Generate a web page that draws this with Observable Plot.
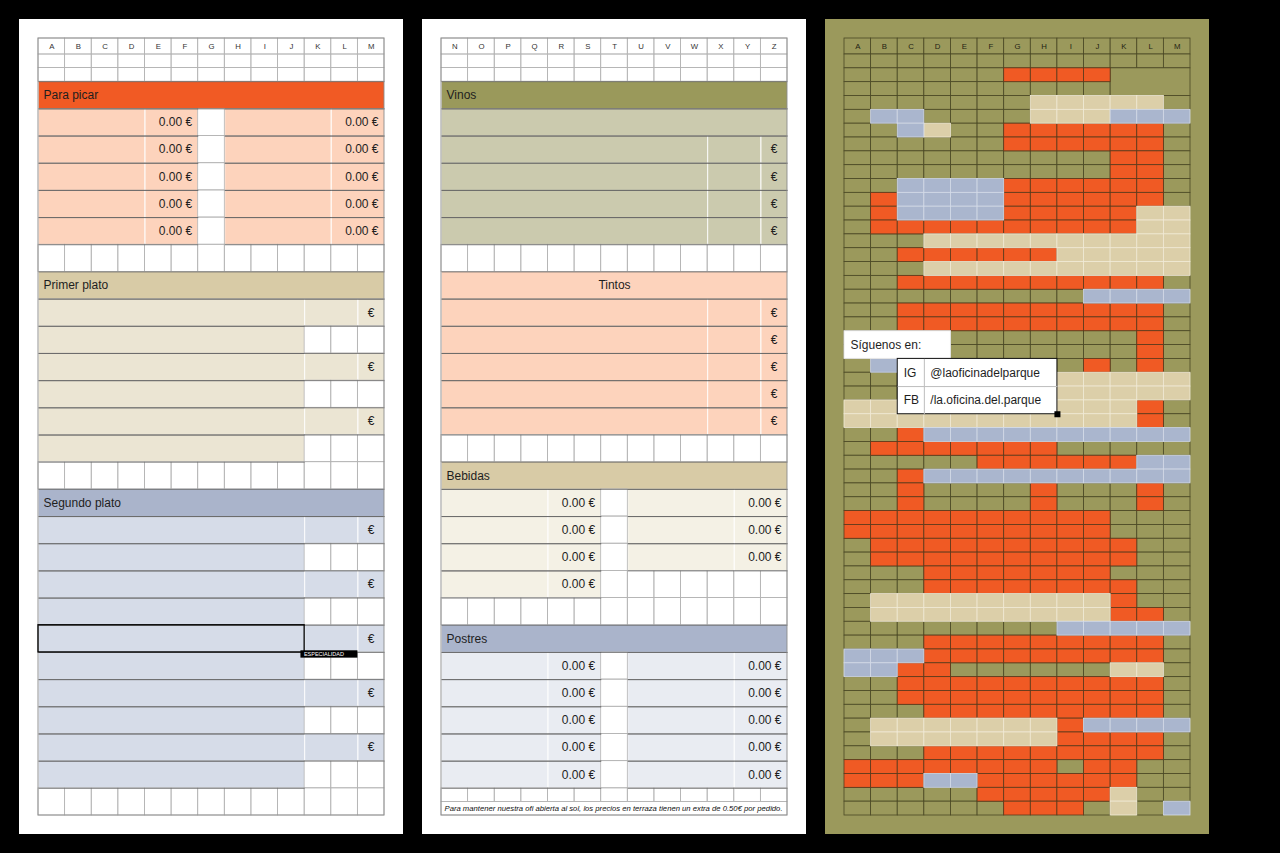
<!DOCTYPE html>
<html><head><meta charset="utf-8">
<script src="https://cdn.jsdelivr.net/npm/d3@7"></script>
<script src="https://cdn.jsdelivr.net/npm/@observablehq/plot@0.6"></script>
<style>
html,body{margin:0;padding:0;background:#000;overflow:hidden;}
svg{display:block;}
</style></head><body>
<script>
// ---------- data ----------
const lettersLeft = ["A","B","C","D","E","F","G","H","I","J","K","L","M"];
const lettersMid  = ["N","O","P","Q","R","S","T","U","V","W","X","Y","Z"];
const panelIds = [0, 1, 2];
const panelBackgrounds = ["#ffffff", "#ffffff", "#9b995c"];

const sectionNames  = ["Para picar", "Primer plato", "Segundo plato", "Vinos", "Tintos", "Bebidas", "Postres"];
const sectionPanel  = [0, 0, 0, 1, 1, 1, 1];
const sectionRow    = [2, 16, 32, 2, 16, 30, 42];
const sectionColor  = ["#f15a24", "#d8cba6", "#aab4cb", "#9a995b", "#fdd3bc", "#d8cba6", "#aab4cb"];
const sectionCenter = [false, false, false, false, true, false, false];

const paraPicarPrices = ["0.00 €", "0.00 €", "0.00 €", "0.00 €", "0.00 €"];
const primerPlatoRows = 6;
const segundoPlatoRows = 10;
const vinosRows = 4;
const tintosRows = 5;
const bebidasPrices = [["0.00 €", "0.00 €"], ["0.00 €", "0.00 €"], ["0.00 €", "0.00 €"], ["0.00 €", null]];
const postresPrices = [["0.00 €", "0.00 €"], ["0.00 €", "0.00 €"], ["0.00 €", "0.00 €"], ["0.00 €", "0.00 €"], ["0.00 €", "0.00 €"]];
const euroSign = "€";
const especialidadLabel = "ESPECIALIDAD";
const footnote = "Para mantener nuestra ofi abierta al sol, los precios en terraza tienen un extra de 0.50€ por pedido.";

// mosaic (right panel): o = olive, R = orange, T = tan, B = blue
const mosaicRows = [
  "ooooooooooooo","ooooooRRRRooo","ooooooooooooo","oooooooTTTTTo","oBBooooTTTBBB",
  "ooBTooRRRRRRo","ooooooRRRRRRo","ooooooooooRRo","ooooooooooRRo","ooBBBBRRRRRRo",
  "oRBBBBRRRRRRo","oRBBBBRRRRRTT","oRRRRRRRRRRTT","oooTTTTTTTTTT","ooRRRRRRTTTTT",
  "oooTTTTTTTTTT","ooRRRRRRRRRRo","oooooooooBBBB","ooRRRRRRRRRRo","ooRRRRRRRRRRo",
  "oooooooooooRo","oooooooooooRo","oBoooooooRoRo","ooooooooTTTTT","ooooooooTTTTT",
  "TTTTTTTTTTTRo","TTTTTTTTTTTRo","ooRBBBBBBBBBB","oRRRRRRRooooo","oooooRRRRRRBB",
  "ooRBBBBBBBBBB","ooRooooRoooRo","ooRooooRoooRo","RRRRRRRRRRooo","RRRRRRRRRRooo",
  "oRRRRRRRRRRoo","oRRRRRRRRRRoo","oooRRRRRRRooo","oooRRRRRRRRoo","oTTTTTTTTTRoo",
  "oTTTTTTTTTRRo","ooooooooBBBBB","oooRRRRRRRRRo","BBBRRRRRRRRRo","BBRRooooooTTo",
  "ooRRRRRRRRRRo","ooRRRRRRRRRRo","oooRRRRRRRRRo","oTTTTTTTRBBBB","oTTTTTTTRRRRo",
  "oooRRRRRRRRRo","RRRRRRRRoRRoo","RRRBBRRRRRRoo","oooooRRRRRToo","ooooooRRRoToB"
];
const mosaicPalette = {o: "#9b995c", R: "#f05a24", T: "#dccfa9", B: "#aab6ce"};
const mosaicStroke  = {o: "#4a4825", R: "#5a3a1c", T: "#f1ead6", B: "#d4dbe9"};
const mosaicMerged = [{c0: 10, c1: 13, r0: 1, r1: 3, key: "o"}];
const followTitle = "Síguenos en:";
const socialKeys = ["IG", "FB"];
const socialHandles = ["@laoficinadelparque", "/la.oficina.del.parque"];

// ---------- layout units ----------
const NCOL = 13, HALF_ROWS = 56;
const CW = 346 / NCOL;          // px per column
const HR = 761 / HALF_ROWS;     // px per half row
const HDR = 16 / HR;            // header row height in half rows
const xDomain = [-19 / CW, NCOL + 19 / CW];
const yDomain = [-(16 + 19) / HR, HALF_ROWS + 19 / HR];
const MK = HALF_ROWS / mosaicRows.length; // mosaic row height in half-row units

const WHITE = "#ffffff", LIGHT_LINE = "#b4b4b4";
const peach = "#fdd3bc", tanLight = "#ebe5d3", blueLight = "#d6dce8",
      oliveLight = "#cbcaae", cream = "#f4f1e5", blueLighter = "#e9ecf2";

const cells = [];
const texts = [];
function cell(panel, c0, c1, r0, r1, fill) { cells.push({panel, c0, c1, r0, r1, fill}); }
function whiteRow(panel, r0, r1, from = 0) { for (let c = from; c < NCOL; c++) cell(panel, c, c + 1, r0, r1, WHITE); }
function txt(panel, x, y, text, o = {}) {
  texts.push({panel, x, y, text, anchor: o.anchor || "start", dx: o.dx || 0, size: o.size || 12,
              fill: o.fill || "#1e1e1e", style: o.style || "normal"});
}

// header letter rows
[lettersLeft, lettersMid].forEach((letters, p) => {
  whiteRow(p, -HDR, 0);
  letters.forEach((l, i) => txt(p, i + 0.5, -HDR / 2, l, {anchor: "middle", size: 7.8, fill: "#333333"}));
  whiteRow(p, 0, 1); whiteRow(p, 1, 2);
});

// section headers
sectionNames.forEach((name, i) => {
  cell(sectionPanel[i], 0, NCOL, sectionRow[i], sectionRow[i] + 2, sectionColor[i]);
  if (sectionCenter[i]) txt(sectionPanel[i], NCOL / 2, sectionRow[i] + 1, name, {anchor: "middle"});
  else txt(sectionPanel[i], 0, sectionRow[i] + 1, name, {dx: 5});
});

// ----- panel 0 -----
paraPicarPrices.forEach((p, i) => {
  const r = 4 + 2 * i;
  cell(0, 0, 4, r, r + 2, peach); cell(0, 4, 6, r, r + 2, peach);
  cell(0, 6, 7, r, r + 2, WHITE); cell(0, 7, 11, r, r + 2, peach); cell(0, 11, 13, r, r + 2, peach);
  txt(0, 6, r + 1, p, {anchor: "end", dx: -6}); txt(0, 13, r + 1, p, {anchor: "end", dx: -6});
});
whiteRow(0, 14, 16);
function dishRows(start, n, light) {
  for (let i = 0; i < n; i++) {
    const r = start + 2 * i;
    cell(0, 0, 10, r, r + 2, light);
    if (i % 2 === 0) {
      cell(0, 10, 12, r, r + 2, light); cell(0, 12, 13, r, r + 2, light);
      txt(0, 12.5, r + 1, euroSign, {anchor: "middle"});
    } else { cell(0, 10, 11, r, r + 2, WHITE); cell(0, 11, 12, r, r + 2, WHITE); cell(0, 12, 13, r, r + 2, WHITE); }
  }
}
dishRows(18, primerPlatoRows, tanLight);
whiteRow(0, 30, 32);
dishRows(34, segundoPlatoRows, blueLight);
whiteRow(0, 54, 56);

// ----- panel 1 -----
cell(1, 0, 13, 4, 6, oliveLight);
function wineRows(start, n, fill) {
  for (let i = 0; i < n; i++) {
    const r = start + 2 * i;
    cell(1, 0, 10, r, r + 2, fill); cell(1, 10, 12, r, r + 2, fill); cell(1, 12, 13, r, r + 2, fill);
    txt(1, 12.5, r + 1, euroSign, {anchor: "middle"});
  }
}
wineRows(6, vinosRows, oliveLight);
whiteRow(1, 14, 16);
wineRows(18, tintosRows, peach);
whiteRow(1, 28, 30);
function priceRows(start, prices, fill) {
  prices.forEach((pr, i) => {
    const r = start + 2 * i;
    cell(1, 0, 4, r, r + 2, fill); cell(1, 4, 6, r, r + 2, fill); cell(1, 6, 7, r, r + 2, WHITE);
    txt(1, 6, r + 1, pr[0], {anchor: "end", dx: -6});
    if (pr[1]) {
      cell(1, 7, 11, r, r + 2, fill); cell(1, 11, 13, r, r + 2, fill);
      txt(1, 13, r + 1, pr[1], {anchor: "end", dx: -6});
    } else for (let c = 7; c < 13; c++) cell(1, c, c + 1, r, r + 2, WHITE);
  });
}
priceRows(32, bebidasPrices, cream);
whiteRow(1, 40, 42);
priceRows(44, postresPrices, blueLighter);
whiteRow(1, 54, 55);
cell(1, 0, 13, 55, 56, WHITE);
txt(1, 0, 55.5, footnote, {dx: 3, size: 7.7, style: "italic", fill: "#111111"});

const whiteCells = cells.filter(d => d.fill === WHITE);
const colorCells = cells.filter(d => d.fill !== WHITE);
// edges of coloured cells: vertical ones are pale, horizontal ones dark
const colorVEdges = colorCells.flatMap(d => [{panel: d.panel, x: d.c0, y1: d.r0, y2: d.r1}, {panel: d.panel, x: d.c1, y1: d.r0, y2: d.r1}]);
const colorHEdges = colorCells.flatMap(d => [{panel: d.panel, y: d.r0, x1: d.c0, x2: d.c1}, {panel: d.panel, y: d.r1, x1: d.c0, x2: d.c1}]);
const gridFrames = [0, 1].map(p => ({panel: p, c0: 0, c1: NCOL, r0: -HDR, r1: HALF_ROWS}));

// ----- panel 2 (mosaic) -----
const mosaicCells = [];
for (let c = 0; c < NCOL; c++) mosaicCells.push({panel: 2, c0: c, c1: c + 1, r0: -HDR, r1: 0, key: "o"});
lettersLeft.forEach((l, i) => txt(2, i + 0.5, -HDR / 2, l, {anchor: "middle", size: 7.8, fill: "#1f1f12"}));
mosaicRows.forEach((row, r) => {
  row.split("").forEach((k, c) => {
    if (mosaicMerged.some(m => c >= m.c0 && c < m.c1 && r >= m.r0 && r < m.r1)) return;
    mosaicCells.push({panel: 2, c0: c, c1: c + 1, r0: r * MK, r1: (r + 1) * MK, key: k});
  });
});
mosaicMerged.forEach(m => mosaicCells.push({panel: 2, c0: m.c0, c1: m.c1, r0: m.r0 * MK, r1: m.r1 * MK, key: m.key}));
const order = {o: 0, R: 1, T: 2, B: 3};
mosaicCells.sort((a, b) => order[a.key] - order[b.key]);
mosaicCells.forEach(d => { d.fill = mosaicPalette[d.key]; d.stroke = mosaicStroke[d.key]; });

const overlayBoxes = [
  {panel: 2, c0: 0, c1: 4, r0: 20 * MK, r1: 22 * MK, stroke: "#e6e6e6"},
  {panel: 2, c0: 2, c1: 8, r0: 22 * MK, r1: 26 * MK, stroke: "#111111"}
];
const overlayLines = [
  {panel: 2, x1: 3, x2: 3, y1: 22 * MK, y2: 26 * MK},
  {panel: 2, x1: 2, x2: 8, y1: 24 * MK, y2: 24 * MK}
];
const overlayTexts = [
  {panel: 2, x: 0, y: 21 * MK, text: followTitle},
  {panel: 2, x: 2, y: 23 * MK, text: socialKeys[0]},
  {panel: 2, x: 3, y: 23 * MK, text: socialHandles[0]},
  {panel: 2, x: 2, y: 25 * MK, text: socialKeys[1]},
  {panel: 2, x: 3, y: 25 * MK, text: socialHandles[1]}
];
const handle = [{panel: 2, x: 8, y: 26 * MK}];

const especialidad = [{panel: 0, c0: 9.86, c1: 12, r0: 43.88, r1: 44.42}];
const outline = [{panel: 0, c0: 0, c1: 10, r0: 42, r1: 44}];

const panelList = panelIds.map(p => ({panel: p, bg: panelBackgrounds[p]}));

// one text mark per (anchor, dx, style) group, since those are constant options
const textMarks = d3.groups(texts, d => `${d.anchor}|${d.dx}|${d.style}`).map(([, g]) =>
  Plot.text(g, {fx: "panel", x: "x", y: "y", text: "text", textAnchor: g[0].anchor, dx: g[0].dx,
                fontStyle: g[0].style, fontSize: "size", fill: "fill"}));

const box = {fx: "panel", x1: "c0", x2: "c1", y1: "r0", y2: "r1"};

const chart = Plot.plot({
  width: 1280, height: 853,
  marginTop: 19, marginBottom: 19, marginLeft: 19, marginRight: 71,
  style: {background: "#000", fontFamily: "'Liberation Sans', Arial, sans-serif"},
  fx: {domain: panelIds, paddingInner: 19 / 403, paddingOuter: 0, axis: null, label: null},
  x: {domain: xDomain, axis: null},
  y: {domain: yDomain, reverse: true, axis: null},
  color: {type: "identity"},
  marks: [
    Plot.rect(panelList, {fx: "panel", x1: () => xDomain[0], x2: () => xDomain[1], y1: () => yDomain[0], y2: () => yDomain[1], fill: "bg"}),
    Plot.rect(whiteCells, {...box, fill: WHITE}),
    Plot.rect(colorCells, {...box, fill: "fill"}),
    Plot.link(colorVEdges, {fx: "panel", x1: "x", x2: "x", y1: "y1", y2: "y2", stroke: "#ffffff", strokeOpacity: 0.75, strokeWidth: 0.9}),
    Plot.rect(whiteCells, {...box, fill: "none", stroke: LIGHT_LINE, strokeWidth: 0.8}),
    Plot.link(colorHEdges, {fx: "panel", x1: "x1", x2: "x2", y1: "y", y2: "y", stroke: "#666666", strokeWidth: 0.8}),
    Plot.rect(gridFrames, {...box, fill: "none", stroke: "#8c8c8c", strokeWidth: 0.9}),
    Plot.rect(mosaicCells, {...box, fill: "fill", stroke: "stroke", strokeWidth: 0.8}),
    Plot.rect(outline, {...box, fill: "none", stroke: "#000", strokeWidth: 1.3}),
    Plot.rect(especialidad, {...box, fill: "#000"}),
    Plot.text(especialidad, {fx: "panel", x: "c0", y: d => (d.r0 + d.r1) / 2, text: () => especialidadLabel, textAnchor: "start", dx: 3, fill: "#fff", fontSize: 5.5}),
    ...textMarks,
    Plot.rect(overlayBoxes, {...box, fill: "#fff", stroke: "stroke", strokeWidth: 1}),
    Plot.link(overlayLines, {fx: "panel", x1: "x1", x2: "x2", y1: "y1", y2: "y2", stroke: "#bdbdbd", strokeWidth: 1}),
    Plot.text(overlayTexts, {fx: "panel", x: "x", y: "y", dx: 6, text: "text", textAnchor: "start", fontSize: 12, fill: "#1e1e1e"}),
    Plot.dot(handle, {fx: "panel", x: "x", y: "y", symbol: "square", r: 3.4, fill: "#000"})
  ]
});
document.body.appendChild(chart);
</script>
</body></html>
